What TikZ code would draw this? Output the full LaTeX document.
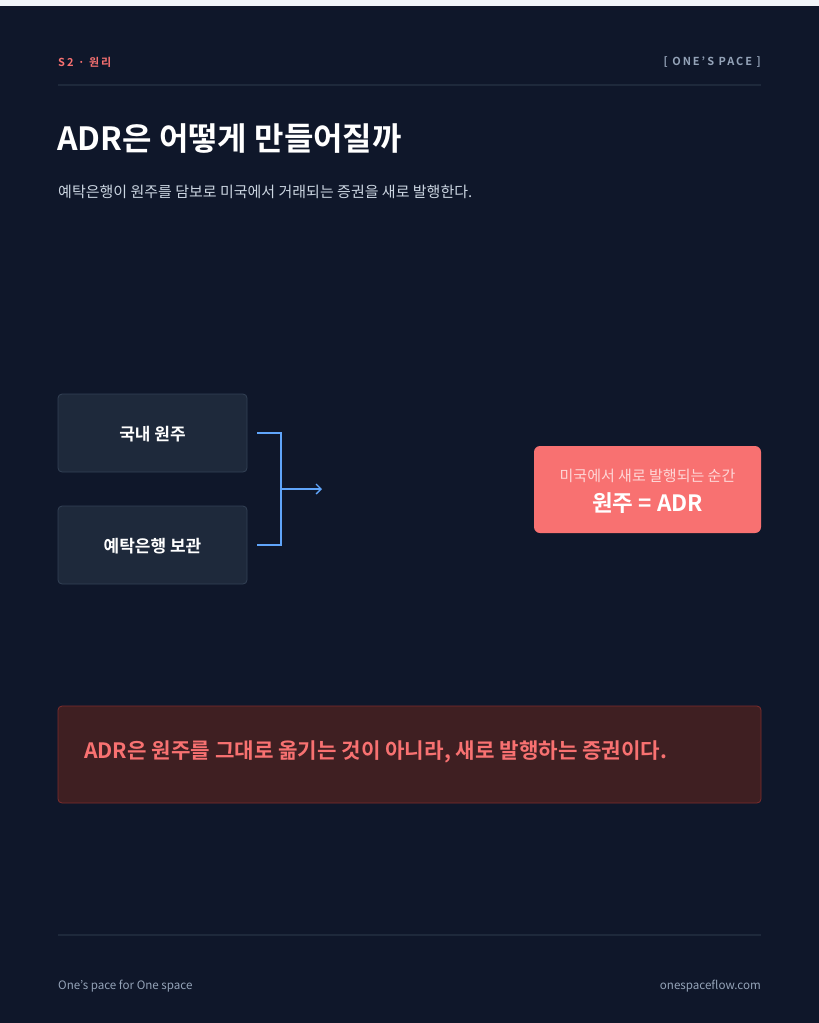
\documentclass[tikz,border=0pt]{standalone}
\usepackage{fontspec}
\setmainfont{Noto Sans CJK KR}[BoldFont={Noto Sans CJK KR Bold}]
\usetikzlibrary{arrows.meta}
\definecolor{bg}{HTML}{0F172A}
\definecolor{card}{HTML}{1E293B}
\definecolor{cardb}{HTML}{334155}
\definecolor{red}{HTML}{F87171}
\definecolor{mut}{HTML}{94A3B8}
\definecolor{sub}{HTML}{CBD5E1}
\definecolor{blu}{HTML}{60A5FA}
\definecolor{nbg}{HTML}{3F1F22}
\definecolor{nbd}{HTML}{7F2D2D}
\definecolor{top}{HTML}{F1F5F9}
\definecolor{pink}{HTML}{FED7D7}
\begin{document}
\begin{tikzpicture}[x=1pt,y=-1pt,
  box/.style={draw=cardb,fill=card,rounded corners=4pt,line width=0.8pt},
  t/.style={inner sep=0pt,anchor=west}]
\useasboundingbox (0,0) rectangle (819,1023);
\fill[bg] (0,0) rectangle (819,1023);
\fill[top] (0,0) rectangle (819,6);
\node[t,text=red,font=\fontsize{11}{13}\selectfont\bfseries\addfontfeature{LetterSpace=18}] (hl) at (58,62) {S2 · 원리};
\node[t,anchor=east,text=mut,font=\fontsize{11}{13}\selectfont\bfseries\addfontfeature{LetterSpace=18}] (hr) at (761,62) {[ ONE'S PACE ]};
\draw[card,line width=1.2pt] (58,85) coordinate (l1) -- (761,85) coordinate (l2);
\node[t,text=white,font=\fontsize{32}{36}\selectfont\bfseries] (title) at (57,138.5) {ADR은 어떻게 만들어질까};
\node[t,text=sub,font=\fontsize{15}{18}\selectfont] (subt) at (58,191.5) {예탁은행이 원주를 담보로 미국에서 거래되는 증권을 새로 발행한다.};
\draw[box] (58,394) rectangle (247,472);
\node[text=white,font=\fontsize{17}{20}\selectfont\bfseries] (b1) at (152.5,434.5) {국내 원주};
\draw[box] (58,506) rectangle (247,584);
\node[text=white,font=\fontsize{17}{20}\selectfont\bfseries] (b2) at (152.5,546.5) {예탁은행 보관};
\coordinate (p1) at (257,433); \coordinate (p2) at (257,545);
\coordinate (m) at (281,489); \coordinate (e) at (322,489);
\draw[blu,line width=1.3pt] (p1) -- (281,433) -- (281,545) -- (p2);
\draw[blu,line width=1.3pt,-{Straight Barb[length=5pt,width=10pt]}] (m) -- (e);
\fill[red,rounded corners=6pt] (534,446) rectangle (761,533);
\node[text=pink,font=\fontsize{15}{18}\selectfont] (r1) at (647.5,476) {미국에서 새로 발행되는 순간};
\node[text=white,font=\fontsize{22.5}{26}\selectfont\bfseries] (r2) at (647.5,503.5) {원주 = ADR};
\draw[nbd,fill=nbg,rounded corners=4pt,line width=0.8pt] (58,706) rectangle (761,803);
\node[t,text=red,font=\fontsize{21.2}{25}\selectfont\bfseries] (note) at (84,751.5) {ADR은 원주를 그대로 옮기는 것이 아니라, 새로 발행하는 증권이다.};
\draw[card,line width=1.2pt] (58,935) coordinate (f1) -- (761,935) coordinate (f2);
\node[t,text=mut,font=\fontsize{11.6}{14}\selectfont] (fl) at (58,986) {One's pace for One space};
\node[t,anchor=east,text=mut,font=\fontsize{11.6}{14}\selectfont] (fr) at (761,986) {onespaceflow.com};
\end{tikzpicture}
\end{document}
